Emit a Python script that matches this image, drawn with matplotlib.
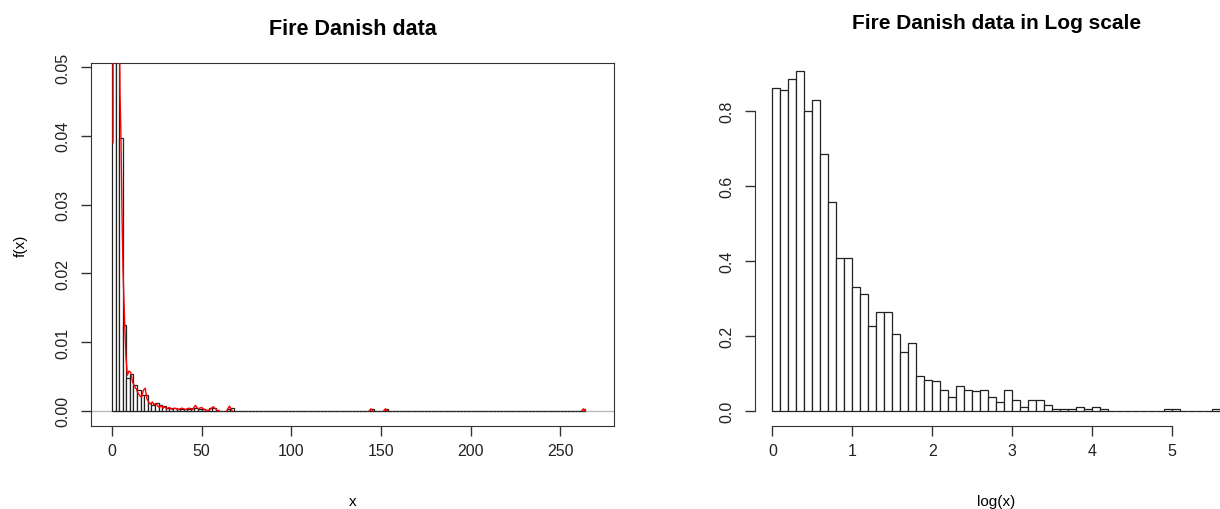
import matplotlib
matplotlib.use("Agg")
import matplotlib.pyplot as plt
import numpy as np

plt.rcParams["font.family"] = ["Liberation Sans", "DejaVu Sans"]

N_OBS = 2167

# left panel: histogram of the raw claims, bins of width 2 on [0, 264]
bin_width = 2.0
bin_idx = [0, 1, 2, 3, 4, 5, 6, 7, 8, 9, 10, 11, 12, 13, 14, 15, 16, 17, 18,
           19, 20, 21, 22, 23, 24, 25, 27, 28, 32, 33, 72, 76, 131]
bin_counts = [1261, 540, 172, 54, 21, 23, 16, 13, 10, 10, 5, 4, 5, 4, 3, 2, 2, 2, 1,
              1, 1, 1, 2, 2, 1, 1, 2, 2, 1, 2, 1, 1, 1]

# kernel density (nan = gap where it sits on zero)
kde_x = [0.6, 0.8, 1.5, 3.0, 4.0, 4.5, 5.0, 5.6, 6.2, 7.0, 7.8, 8.6, 9.5, 10.5,
         11.5, 12.5, 13.5, 14.5, 15.5, 16.5, 17.5, 18.5, 19.5, 20.5, 21.5, 22.5,
         23.5, 24.5, 25.5, 26.5, 27.5, 28.5, 29.5, 30.5, 32.0, 33.5, 35.0, 37.0,
         39.0, 41.0, 43.0, 45.0, 46.5, 48.0, 50.0, 52.0, 54.0, 56.5, 58.5, 60.0,
         np.nan, 64.0, 65.5, 67.0, np.nan, 143.5, 144.5, 145.5, np.nan,
         151.5, 152.5, 153.5, np.nan, 262.0, 263.0, 264.0]
kde_y = [0.039, 0.12, 0.5, 0.2, 0.06, 0.046, 0.040, 0.0285, 0.020, 0.0134, 0.0078,
         0.0052, 0.0058, 0.0056, 0.0042, 0.0036, 0.0032, 0.0026, 0.0022, 0.0020,
         0.0030, 0.0033, 0.0018, 0.0012, 0.0010, 0.0013, 0.0009, 0.0011, 0.0007,
         0.0005, 0.0008, 0.0004, 0.0006, 0.0003, 0.0005, 0.0002, 0.0004, 0.0002,
         0.0004, 0.0002, 0.0004, 0.0002, 0.0008, 0.0003, 0.0005, 0.0001, 0.0001,
         0.0006, 0.0001, 0.0, np.nan, 0.0, 0.0007, 0.0, np.nan, 0.0, 0.0003, 0.0,
         np.nan, 0.0, 0.0003, 0.0, np.nan, 0.0, 0.0003, 0.0]

# right panel: histogram of log(x), bins of width 0.1 on [0, 5.6]
log_width = 0.1
log_dens = [0.861, 0.855, 0.884, 0.907, 0.800, 0.829, 0.685, 0.557, 0.407, 0.407,
            0.330, 0.310, 0.227, 0.264, 0.264, 0.204, 0.157, 0.181, 0.092, 0.083,
            0.078, 0.054, 0.037, 0.066, 0.054, 0.052, 0.054, 0.037, 0.024, 0.055,
            0.029, 0.009, 0.029, 0.029, 0.015, 0.005, 0.005, 0.005, 0.009, 0.005,
            0.009, 0.005, 0.0, 0.0, 0.0, 0.0, 0.0, 0.0, 0.0, 0.005, 0.005, 0.0,
            0.0, 0.0, 0.0, 0.005]

W, H = 1220, 510
fig = plt.figure(figsize=(W / 100, H / 100), dpi=100)


def px_axes(x0, y0, x1, y1):
    return fig.add_axes([x0 / W, 1 - y1 / H, (x1 - x0) / W, (y1 - y0) / H])


def r_style(ax):
    ax.tick_params(direction="out", length=7, width=1, labelsize=11.5, pad=5,
                   color="#333333", labelcolor="#222222")
    ax.tick_params(axis="y", pad=8)
    for lab in ax.get_yticklabels():
        lab.set_rotation(90)
        lab.set_va("center")


# ---- left: raw data
ax = px_axes(91, 64, 614, 427)
counts = np.zeros(132)
counts[bin_idx] = bin_counts
dens = counts / (N_OBS * bin_width)
lefts = np.arange(132) * bin_width
ax.axhline(0, color="#bbbbbb", lw=1, zorder=1)
ax.bar(lefts, dens, width=bin_width, align="edge", facecolor="white",
       edgecolor="#222222", linewidth=0.9, zorder=2)
ax.plot(kde_x, kde_y, color="red", lw=1.0, zorder=3)
ax.set_xlim(-11.7, 280)
ax.set_ylim(-0.0022, 0.0506)
ax.set_xticks([0, 50, 100, 150, 200, 250])
ax.set_yticks([0.0, 0.01, 0.02, 0.03, 0.04, 0.05])
ax.set_yticklabels(["0.00", "0.01", "0.02", "0.03", "0.04", "0.05"])
r_style(ax)
for s in ax.spines.values():
    s.set_color("#333333")
ax.set_xlabel("x", fontsize=11, labelpad=26)
ax.set_ylabel("f(x)", fontsize=11, labelpad=20)
ax.set_title("Fire Danish data", fontsize=15.5, fontweight="bold", pad=21)

# ---- right: log scale
ax2 = px_axes(755, 58, 1238, 427)
log_lefts = np.arange(len(log_dens)) * log_width
ax2.bar(log_lefts, log_dens, width=log_width, align="edge", facecolor="white",
        edgecolor="#222222", linewidth=0.9)
ax2.set_xlim(-0.219, 5.83)
ax2.set_ylim(-0.0408, 0.943)
ax2.set_xticks([0, 1, 2, 3, 4, 5])
ax2.set_yticks([0.0, 0.2, 0.4, 0.6, 0.8])
ax2.set_yticklabels(["0.0", "0.2", "0.4", "0.6", "0.8"])
r_style(ax2)
ax2.spines["top"].set_visible(False)
ax2.spines["right"].set_visible(False)
ax2.spines["bottom"].set_bounds(0, 5)
ax2.spines["left"].set_bounds(0, 0.8)
ax2.spines["bottom"].set_color("#333333")
ax2.spines["left"].set_color("#333333")
ax2.set_xlabel("log(x)", fontsize=11, labelpad=26)
ax2.set_title("Fire Danish data in Log scale", fontsize=15, fontweight="bold",
              pad=21)

fig.savefig("out.png", dpi=100)
